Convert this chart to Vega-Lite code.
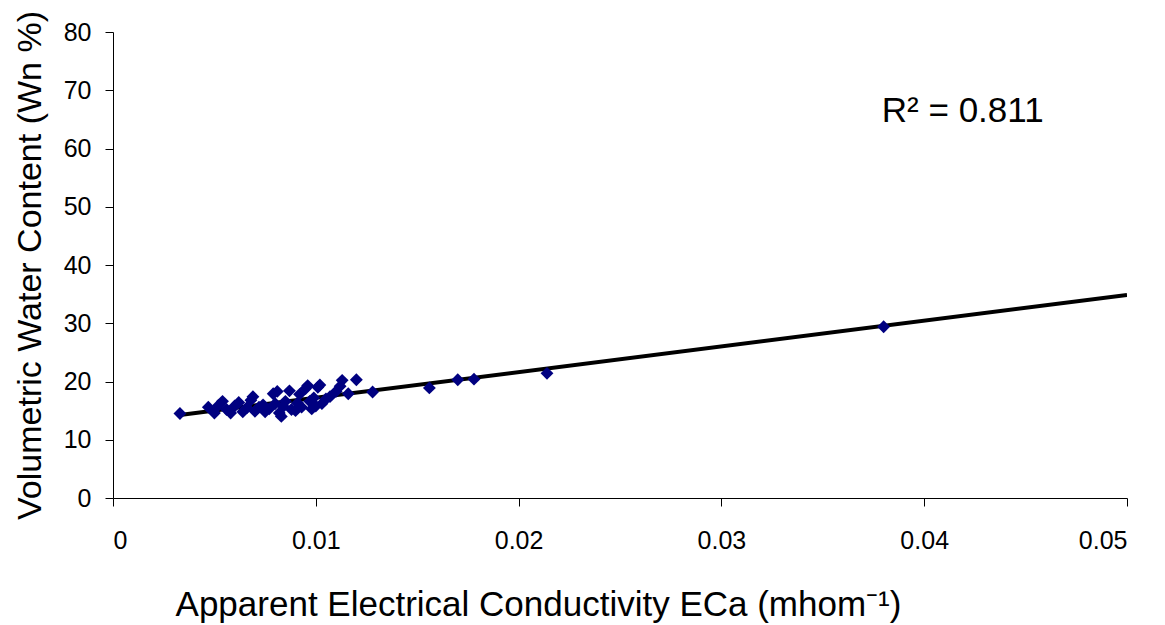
{
  "$schema": "https://vega.github.io/schema/vega-lite/v6.json",
  "autosize": "none",
  "padding": {"left": 113, "top": 32, "right": 38, "bottom": 127},
  "width": 1014,
  "height": 466,
  "background": "white",
  "config": {
    "view": {"stroke": null},
    "font": "Liberation Sans",
    "axis": {
      "grid": false,
      "domainColor": "#000000",
      "tickColor": "#000000",
      "labelColor": "#000000",
      "titleColor": "#000000",
      "labelFont": "Liberation Sans",
      "titleFont": "Liberation Sans",
      "labelFontSize": 25,
      "titleFontSize": 34,
      "titleFontWeight": "normal",
      "tickSize": 8
    }
  },
  "datasets": {
    "obs": [
      {"eca": 0.0033, "wn": 14.5},
      {"eca": 0.0047, "wn": 15.6},
      {"eca": 0.0050, "wn": 14.6},
      {"eca": 0.0052, "wn": 15.9},
      {"eca": 0.0054, "wn": 16.6},
      {"eca": 0.0056, "wn": 15.2},
      {"eca": 0.0058, "wn": 14.6},
      {"eca": 0.0060, "wn": 15.8},
      {"eca": 0.0062, "wn": 16.4},
      {"eca": 0.0064, "wn": 14.8},
      {"eca": 0.0066, "wn": 15.5},
      {"eca": 0.0068, "wn": 16.8},
      {"eca": 0.0069, "wn": 17.4},
      {"eca": 0.0070, "wn": 14.9},
      {"eca": 0.0072, "wn": 15.6},
      {"eca": 0.0074, "wn": 16.0},
      {"eca": 0.0075, "wn": 14.8},
      {"eca": 0.0077, "wn": 15.3},
      {"eca": 0.0079, "wn": 17.9},
      {"eca": 0.0080, "wn": 16.2},
      {"eca": 0.0081, "wn": 18.3},
      {"eca": 0.0082, "wn": 14.6},
      {"eca": 0.0083, "wn": 14.0},
      {"eca": 0.0084, "wn": 15.7},
      {"eca": 0.0085, "wn": 16.6},
      {"eca": 0.0087, "wn": 18.4},
      {"eca": 0.0088, "wn": 15.2},
      {"eca": 0.0090, "wn": 15.0},
      {"eca": 0.0091, "wn": 16.3},
      {"eca": 0.0092, "wn": 17.8},
      {"eca": 0.0093, "wn": 15.6},
      {"eca": 0.0095, "wn": 18.8},
      {"eca": 0.0096, "wn": 19.3},
      {"eca": 0.0097, "wn": 16.6},
      {"eca": 0.0098, "wn": 15.3},
      {"eca": 0.0099, "wn": 17.2},
      {"eca": 0.0100, "wn": 15.8},
      {"eca": 0.0101, "wn": 19.0},
      {"eca": 0.0102, "wn": 19.4},
      {"eca": 0.0103, "wn": 16.2},
      {"eca": 0.0105, "wn": 17.0},
      {"eca": 0.0107, "wn": 17.4},
      {"eca": 0.0110, "wn": 18.3},
      {"eca": 0.0112, "wn": 19.2},
      {"eca": 0.0113, "wn": 20.2},
      {"eca": 0.0116, "wn": 17.9},
      {"eca": 0.0120, "wn": 20.3},
      {"eca": 0.0128, "wn": 18.2},
      {"eca": 0.0156, "wn": 18.9},
      {"eca": 0.0170, "wn": 20.3},
      {"eca": 0.0178, "wn": 20.4},
      {"eca": 0.0214, "wn": 21.4},
      {"eca": 0.0380, "wn": 29.4}
    ],
    "fit": [
      {"eca": 0.0033, "wn": 14.25},
      {"eca": 0.05, "wn": 34.85}
    ],
    "note": [
      {"eca": 0.0419, "wn": 66.5, "label": "R² = 0.811"}
    ]
  },
  "layer": [
    {
      "data": {"name": "fit"},
      "mark": {"type": "line", "color": "#000000", "strokeWidth": 4, "clip": true},
      "encoding": {
        "x": {
          "field": "eca", "type": "quantitative",
          "scale": {"domain": [0, 0.05], "nice": false, "zero": false},
          "axis": {
            "values": [0, 0.01, 0.02, 0.03, 0.04, 0.05],
            "labelExpr": "datum.value == 0 ? '0' : format(datum.value, '.2')",
            "labelPadding": 22,
            "title": "Apparent Electrical Conductivity ECa (mhom⁻¹)",
            "titleFontSize": 35,
            "titleX": 425,
            "titleY": 117,
            "titleAlign": "center",
            "titleBaseline": "alphabetic"
          }
        },
        "y": {
          "field": "wn", "type": "quantitative",
          "scale": {"domain": [0, 80], "nice": false},
          "axis": {
            "values": [0, 10, 20, 30, 40, 50, 60, 70, 80],
            "labelPadding": 14,
            "title": "Volumetric Water Content (Wn %)",
            "titleX": -83,
            "titleY": 233,
            "titleAlign": "center",
            "titleBaseline": "middle",
            "titleAngle": -90
          }
        }
      }
    },
    {
      "data": {"name": "obs"},
      "mark": {"type": "point", "shape": "diamond", "filled": true, "color": "#000080", "size": 165, "opacity": 1},
      "encoding": {
        "x": {"field": "eca", "type": "quantitative"},
        "y": {"field": "wn", "type": "quantitative"}
      }
    },
    {
      "data": {"name": "note"},
      "mark": {"type": "text", "font": "Liberation Sans", "fontSize": 35, "color": "#000000", "align": "center", "baseline": "middle"},
      "encoding": {
        "x": {"field": "eca", "type": "quantitative"},
        "y": {"field": "wn", "type": "quantitative"},
        "text": {"field": "label"}
      }
    }
  ]
}
